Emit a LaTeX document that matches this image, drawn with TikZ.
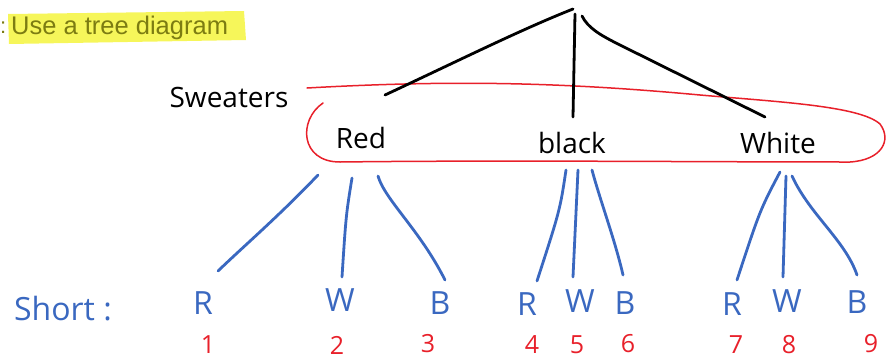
\documentclass[tikz,border=0pt]{standalone}
\usepackage{fontspec}
\setmainfont{Open Sans}
\newfontfamily\uifont{Liberation Sans}
\definecolor{penblue}{HTML}{3A68C0}
\definecolor{penred}{HTML}{E8202A}
\definecolor{hilite}{HTML}{F6F65A}
\definecolor{olive}{HTML}{7C7C12}
\begin{document}
\begin{tikzpicture}[x=1pt,y=-1pt,
  hand/.style={inner sep=0pt,font=\fontsize{28}{28}\selectfont},
  leaf/.style={inner sep=0pt,text=penblue,font=\fontsize{32}{32}\selectfont},
  num/.style={inner sep=0pt,text=penred,font=\fontsize{25}{25}\selectfont},
  blk/.style={line width=2.8pt,line cap=round,black},
  blu/.style={line width=2.8pt,line cap=round,penblue},
  loop/.style={line width=1.5pt,line cap=round,penred}]
\useasboundingbox (0,0) rectangle (887,362);
% header
\fill[hilite] (8,14) -- (244,11) -- (246,40) -- (9,44) -- cycle;
\node[anchor=west,inner sep=0pt,text=olive,font=\uifont\fontsize{25.5}{25.5}\selectfont] (hdr) at (11,28) {Use a tree diagram};
\node[anchor=west,inner sep=0pt,text=olive,font=\uifont\fontsize{22}{22}\selectfont] (colon) at (0,28) {:};
% labels
\node[hand] (sweat) at (229,97) {Sweaters};
\node[hand] (red) at (361,138) {Red};
\node[hand] (black) at (572,143) {black};
\node[hand] (white) at (778,143) {White};
% red loop
\draw[loop] (307,88) .. controls (450,80) and (560,82) .. (700,95)
  .. controls (780,102) and (860,106) .. (880,124)
  .. controls (892,140) and (882,160) .. (850,162)
  .. controls (700,162) and (500,160) .. (340,162)
  .. controls (300,162) and (298,120) .. (323,103);
% root and black branches
\coordinate (root) at (573,9);
\coordinate (rootv) at (575,14);
\coordinate (rootr) at (582,16);
\coordinate (redtop) at (385,95);
\coordinate (blacktop) at (573,117);
\coordinate (whitetop) at (765,117);
\draw[blk] (root) .. controls (520,30) and (460,60) .. (redtop);
\draw[blk] (rootv) -- (blacktop);
\draw[blk] (rootr) .. controls (588,28) and (600,35) .. (620,45) -- (whitetop);
% leaves
\node[leaf] (short) at (63,309) {Short :};
\node[leaf] (r1) at (203,303) {R};
\node[leaf] (w1) at (340,300) {W};
\node[leaf] (b1) at (440,303) {B};
\node[leaf] (r2) at (527,304) {R};
\node[leaf] (w2) at (580,301) {W};
\node[leaf] (b2) at (625,303) {B};
\node[leaf] (r3) at (732,304) {R};
\node[leaf] (w3) at (787,301) {W};
\node[leaf] (b3) at (857,302) {B};
% numbers
\node[num] (n1) at (208,345) {1};
\node[num] (n2) at (337,345) {2};
\node[num] (n3) at (428,344) {3};
\node[num] (n4) at (532,345) {4};
\node[num] (n5) at (577,345) {5};
\node[num] (n6) at (628,344) {6};
\node[num] (n7) at (736,345) {7};
\node[num] (n8) at (789,345) {8};
\node[num] (n9) at (871,344) {9};
% blue branch endpoints
\coordinate (ra) at (318,175); \coordinate (rb) at (352,178); \coordinate (rc) at (378,176);
\coordinate (ka) at (566,170); \coordinate (kb) at (578,170); \coordinate (kc) at (592,170);
\coordinate (wa) at (780,172); \coordinate (wb) at (786,176); \coordinate (wc) at (792,176);
\coordinate (r1t) at (218,271); \coordinate (w1t) at (342,277); \coordinate (b1t) at (445,280);
\coordinate (r2t) at (537,281); \coordinate (w2t) at (573,277); \coordinate (b2t) at (623,275);
\coordinate (r3t) at (737,280); \coordinate (w3t) at (783,277); \coordinate (b3t) at (857,275);
\draw[blu] (ra) .. controls (280,215) and (245,245) .. (r1t);
\draw[blu] (rb) .. controls (346,215) .. (w1t);
\draw[blu] (rc) .. controls (385,200) and (420,230) .. (b1t);
\draw[blu] (ka) .. controls (560,210) .. (r2t);
\draw[blu] (kb) -- (w2t);
\draw[blu] (kc) .. controls (600,200) and (615,240) .. (b2t);
\draw[blu] (wa) .. controls (760,210) .. (r3t);
\draw[blu] (wb) -- (w3t);
\draw[blu] (wc) .. controls (810,215) and (845,240) .. (b3t);
\end{tikzpicture}
\end{document}
